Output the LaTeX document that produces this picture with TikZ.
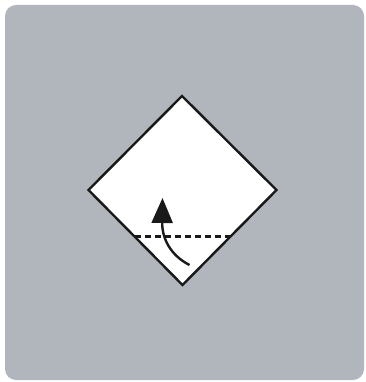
\documentclass[tikz,border=0pt]{standalone}
\usetikzlibrary{arrows.meta}
\definecolor{bggray}{RGB}{177,182,188}
\tikzset{
  paper/.style={fill=white, draw=black!90, line width=2.4pt, line join=miter},
  foldline/.style={draw=black!90, line width=2.5pt, dash pattern=on 6pt off 4pt},
  foldarrow/.style={draw=black!90, line width=2.4pt, -{Triangle[length=25pt,width=21pt]}}
}
\begin{document}
\begin{tikzpicture}[x=1pt,y=-1pt]
\useasboundingbox (0,0) rectangle (365,382);
\fill[bggray, rounded corners=11pt] (5,5) rectangle (364,380);
\coordinate (T) at (182,96);
\coordinate (L) at (88.5,190);
\coordinate (R) at (276.5,190);
\coordinate (B) at (182.5,285);
\draw[paper] (T) -- (R) -- (B) -- (L) -- cycle;
\coordinate (dl) at (135,236.7);
\coordinate (dr) at (230,236.7);
\draw[foldline] (dl) -- (dr);
\coordinate (as) at (189.5,265);
\coordinate (ae) at (162.5,198);
\draw[foldarrow] (as) .. controls (170,255) and (162,238) .. (ae);
\end{tikzpicture}
\end{document}
